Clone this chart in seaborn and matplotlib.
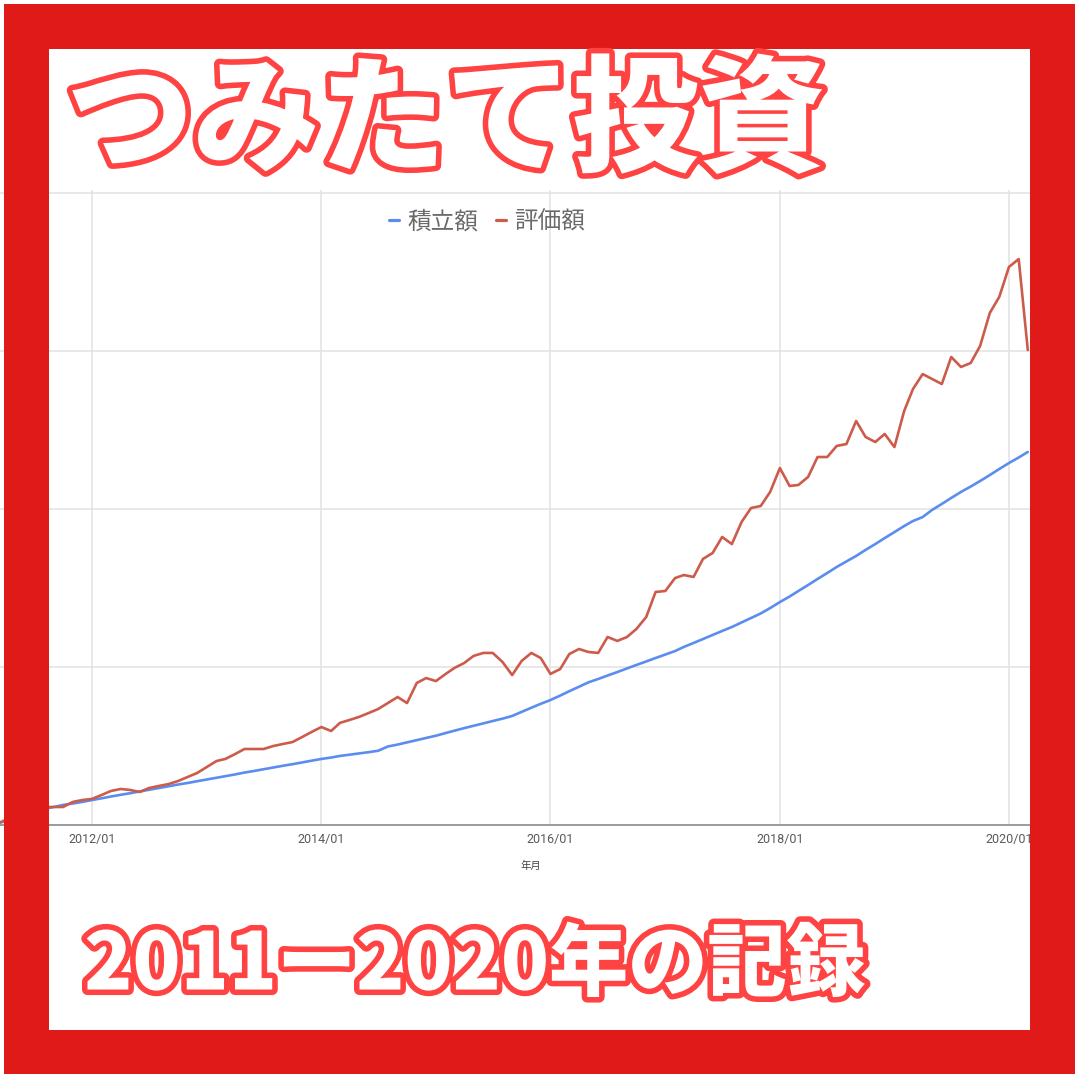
import pandas as pd
import matplotlib
matplotlib.use("Agg")
import matplotlib.pyplot as plt
import matplotlib.patheffects as pe
from matplotlib.lines import Line2D
from matplotlib.patches import Rectangle
import seaborn as sns

# --- data (万円) ---
MONTHS = pd.date_range("2011-03-01", "2020-03-01", freq="MS")

TSUMITATE = [
    0.6, 2.5, 4.4, 6.3, 8.2, 10.1, 11.4, 12.7, 13.6, 14.6,
    15.8, 16.9, 18.0, 19.1, 20.1, 21.2, 22.3, 23.4, 24.5, 25.6,
    26.6, 27.7, 28.8, 29.9, 30.9, 32.0, 33.2, 34.2, 35.3, 36.4,
    37.5, 38.5, 39.6, 40.7, 41.8, 42.7, 43.7, 44.5, 45.3, 46.1,
    47.0, 49.7, 50.9, 52.3, 53.7, 55.1, 56.5, 58.2, 59.7, 61.3,
    62.8, 64.3, 65.8, 67.3, 69.0, 71.6, 74.2, 76.7, 79.1, 81.9,
    84.7, 87.5, 90.3, 92.4, 94.6, 96.8, 99.1, 101.3, 103.5, 105.7,
    107.9, 110.1, 112.7, 115.2, 117.7, 120.3, 122.8, 125.3, 128.2, 131.0,
    133.9, 137.3, 141.1, 144.6, 148.1, 151.9, 155.7, 159.5, 163.3, 166.8,
    170.3, 174.1, 177.8, 181.6, 185.4, 189.2, 192.4, 194.9, 199.4, 203.2,
    207.0, 210.8, 214.2, 217.7, 221.5, 225.3, 229.1, 232.6, 236.1,
]

HYOUKA = [
    0.6, 3.2, 6.3, 8.2, 10.1, 11.4, 11.4, 11.4, 14.6, 15.8,
    16.5, 19.0, 21.5, 22.8, 22.2, 20.9, 23.4, 24.7, 25.9, 27.8,
    30.4, 32.9, 36.7, 40.5, 41.8, 44.9, 48.1, 48.1, 48.1, 50.0,
    51.3, 52.5, 55.7, 58.9, 62.0, 59.5, 64.6, 66.5, 68.4, 70.9,
    73.4, 77.2, 81.0, 77.2, 89.9, 93.0, 91.1, 95.6, 99.4, 102.5,
    107.0, 108.9, 108.9, 103.2, 94.9, 103.8, 108.9, 105.7, 95.6, 98.7,
    108.2, 111.4, 109.5, 108.9, 119.0, 116.5, 119.0, 124.1, 131.6, 147.5,
    148.1, 156.3, 158.2, 157.0, 168.4, 172.2, 182.3, 177.8, 191.8, 200.6,
    201.9, 210.8, 225.9, 214.6, 215.2, 220.3, 232.9, 232.9, 239.9, 241.1,
    255.7, 245.6, 242.4, 247.5, 239.2, 262.0, 275.9, 285.4, 282.3, 279.1,
    296.2, 289.9, 292.4, 303.2, 324.1, 334.2, 353.2, 358.2, 300.6,
]

SERIES = ["積立額", "評価額"]
COLORS = {"積立額": "#5b8def", "評価額": "#cd5b4c"}
XTICKS = ["2012-01-01", "2014-01-01", "2016-01-01", "2018-01-01", "2020-01-01"]
XTICK_LABELS = ["2012/01", "2014/01", "2016/01", "2018/01", "2020/01"]
YTICKS = [100, 200, 300, 400]

TITLE = "つみたて投資"
SUBTITLE = "2011ー2020年の記録"
FRAME_RED = "#e01919"
OUTLINE_RED = "#ff4242"

df = pd.DataFrame({"年月": MONTHS, "積立額": TSUMITATE, "評価額": HYOUKA})
long_df = df.melt(id_vars="年月", value_vars=SERIES, var_name="系列", value_name="金額")

sns.set_theme(style="white")
plt.rcParams["font.family"] = ["Roboto", "Noto Sans CJK JP", "DejaVu Sans"]

PX = 1080
fig = plt.figure(figsize=(10.8, 10.8), dpi=100)
fig.patch.set_facecolor("white")

# chart area in pixels: x 0..1030, y 190..825
ax = fig.add_axes([0, 1 - 825 / PX, 1030 / PX, (825 - 190) / PX])
sns.lineplot(data=long_df, x="年月", y="金額", hue="系列", palette=COLORS,
             linewidth=1.9, legend=False, ax=ax)

ax.set_xlim(pd.Timestamp("2011-03-14"), pd.Timestamp("2020-03-08"))
ax.set_ylim(0, 400 * (825 - 190) / (825 - 193))
ax.set_yticks(YTICKS)
ax.tick_params(axis="y", length=0, labelleft=False)
ax.set_xticks(pd.to_datetime(XTICKS))
ax.set_xticklabels(XTICK_LABELS, fontsize=9, color="#5a5a5a")
ax.tick_params(axis="x", length=0, pad=6)
ax.grid(True, color="#e2e2e2", linewidth=1.1)
ax.set_axisbelow(True)
for side in ["top", "left", "right"]:
    ax.spines[side].set_visible(False)
ax.spines["bottom"].set_color("#9b9b9b")
ax.spines["bottom"].set_linewidth(1.4)

ax.set_xlabel("年月", fontsize=7.5, color="#444444")
ax.set_ylabel("")
ax.xaxis.set_label_coords(531 / 1030, -(861 - 825) / 635)

handles = [Line2D([], [], color=COLORS[s], linewidth=2.3) for s in SERIES]
ax.legend(handles, SERIES, loc="center", bbox_to_anchor=(487 / 1030, 1 - (222 - 190) / 635),
          ncol=2, frameon=False, fontsize=17, handlelength=0.42, handletextpad=0.35,
          columnspacing=0.75, labelcolor="#6a6a6a")

# overlay: red frame + titles
over = fig.add_axes([0, 0, 1, 1], zorder=10)
over.set_xlim(0, PX)
over.set_ylim(PX, 0)
over.axis("off")
over.patch.set_alpha(0)

for x0, y0, w, h in [(4, 4, 1071, 45), (4, 1030, 1071, 44), (4, 4, 45, 1070), (1030, 4, 45, 1070)]:
    over.add_patch(Rectangle((x0, y0), w, h, facecolor=FRAME_RED, edgecolor="none"))

outline = [pe.Stroke(linewidth=8, foreground=OUTLINE_RED), pe.Normal()]
over.text(446, 124, TITLE, ha="center", va="center", fontsize=91, fontweight="black",
          color="white", family=["Noto Sans CJK JP"], path_effects=outline)
over.text(475, 966, SUBTITLE, ha="center", va="center", fontsize=57, fontweight="black",
          color="white", family=["Noto Sans CJK JP"], path_effects=outline)

fig.savefig("out.png", dpi=100)
